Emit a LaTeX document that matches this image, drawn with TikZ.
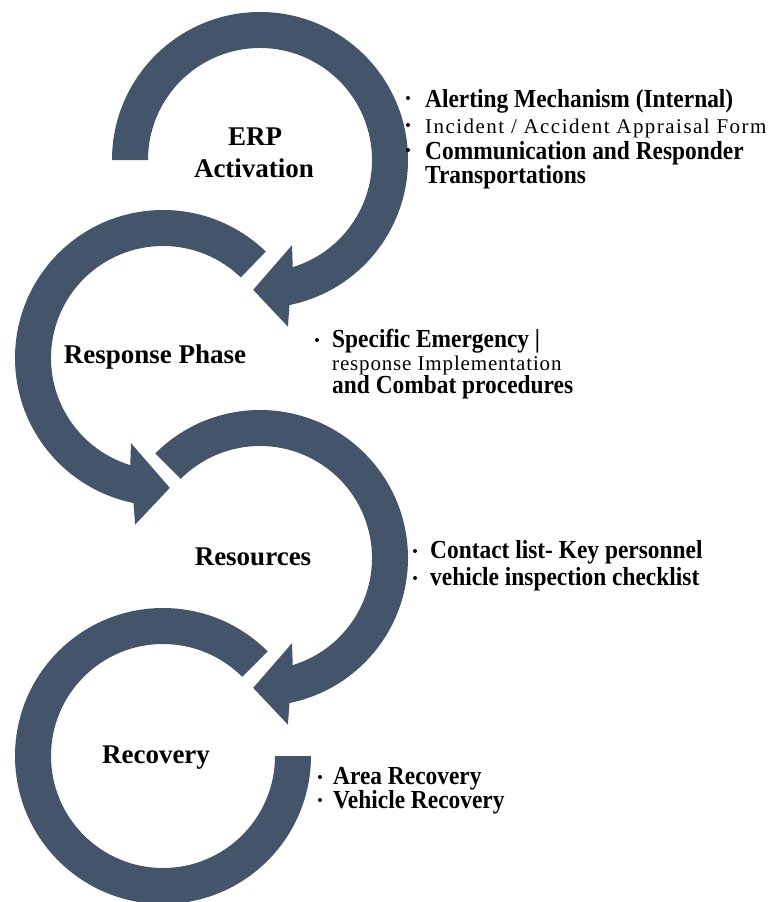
\documentclass[tikz,border=0pt]{standalone}
\usepackage{fontspec}
\setmainfont{Liberation Serif}
\newfontfamily\narrowserif[FakeStretch=0.9]{Liberation Serif}
\newfontfamily\spacedserif[LetterSpace=7]{Liberation Serif}
\usetikzlibrary{calc}
\definecolor{ringblue}{HTML}{44546A}

\begin{document}
\begin{tikzpicture}[x=1pt,y=1pt,
  ring/.style={fill=ringblue,draw=none},
  title/.style={anchor=base,font=\fontsize{27}{30}\selectfont\bfseries,inner sep=0pt,align=center},
  item/.style={anchor=base west,font=\narrowserif\fontsize{26}{28}\selectfont\bfseries,inner sep=0pt},
  smallitem/.style={anchor=base west,font=\spacedserif\fontsize{21}{23}\selectfont,inner sep=0pt},
  bulletdot/.style={circle,fill=black,inner sep=0pt,minimum size=4pt}]

\useasboundingbox (0,0) rectangle (772,-902);

% centres of the four rings
\coordinate (c1) at (260,-160);
\coordinate (c2) at (163,-358);
\coordinate (c3) at (260,-558);
\coordinate (c4) at (163,-756);

% ring 1: clockwise, head pointing left
\fill[ring] ($(c1)+(180:148)$) arc[start angle=180,end angle=-78.5,radius=148pt]
  -- ($(c1)+(-80.5:169)$) -- ($(c1)+(-93:130)$) -- ($(c1)+(-69.4:91)$)
  -- ($(c1)+(-73:112)$) arc[start angle=-73,end angle=180,radius=112pt] -- cycle;

% ring 2: counter-clockwise, head pointing right
\fill[ring] ($(c2)+(46:148)$) arc[start angle=46,end angle=258.5,radius=148pt]
  -- ($(c2)+(260.5:169)$) -- ($(c2)+(273:130)$) -- ($(c2)+(249.4:91)$)
  -- ($(c2)+(253:112)$) arc[start angle=253,end angle=46,radius=112pt] -- cycle;

% ring 3: clockwise, head pointing left
\fill[ring] ($(c3)+(135:148)$) arc[start angle=135,end angle=-78.5,radius=148pt]
  -- ($(c3)+(-80.5:169)$) -- ($(c3)+(-93:130)$) -- ($(c3)+(-69.4:91)$)
  -- ($(c3)+(-73:112)$) arc[start angle=-73,end angle=135,radius=112pt] -- cycle;

% ring 4: open ring without head
\fill[ring] ($(c4)+(45:148)$) arc[start angle=45,end angle=360,radius=148pt]
  -- ($(c4)+(0:112)$) arc[start angle=360,end angle=45,radius=112pt] -- cycle;

% phase titles
\node[title] (t1a) at (255,-145) {ERP};
\node[title] (t1b) at (254,-177) {Activation};
\node[title] (t2) at (155,-363) {Response Phase};
\node[title] (t3) at (253,-565) {Resources};
\node[title] (t4) at (156,-763) {Recovery};

% ERP activation items
\node[bulletdot] (b1a) at (408,-98) {};
\node[bulletdot] (b1b) at (408,-125) {};
\node[bulletdot] (b1c) at (408,-150) {};
\node[item] (i1a) at (425,-107) {Alerting Mechanism (Internal)};
\node[smallitem] (i1b) at (425,-133) {Incident / Accident Appraisal Form};
\node[item] (i1c) at (425,-159) {Communication and Responder};
\node[item] (i1d) at (425,-183) {Transportations};

% response phase items
\node[bulletdot] (b2a) at (317,-340) {};
\node[item] (i2a) at (332,-347) {Specific Emergency |};
\node[smallitem,font=\spacedserif\fontsize{21}{23}\selectfont\addfontfeature{LetterSpace=4}] (i2b) at (332,-370) {response Implementation};
\node[item] (i2c) at (332,-393) {and Combat procedures};

% resources items
\node[bulletdot] (b3a) at (415,-551) {};
\node[bulletdot] (b3b) at (415,-578) {};
\node[item] (i3a) at (430,-558) {Contact list- Key personnel};
\node[item] (i3b) at (430,-585) {vehicle inspection checklist};

% recovery items
\node[bulletdot] (b4a) at (320,-777) {};
\node[bulletdot] (b4b) at (320,-800) {};
\node[item] (i4a) at (333,-784) {Area Recovery};
\node[item] (i4b) at (333,-808) {Vehicle Recovery};

\end{tikzpicture}
\end{document}
